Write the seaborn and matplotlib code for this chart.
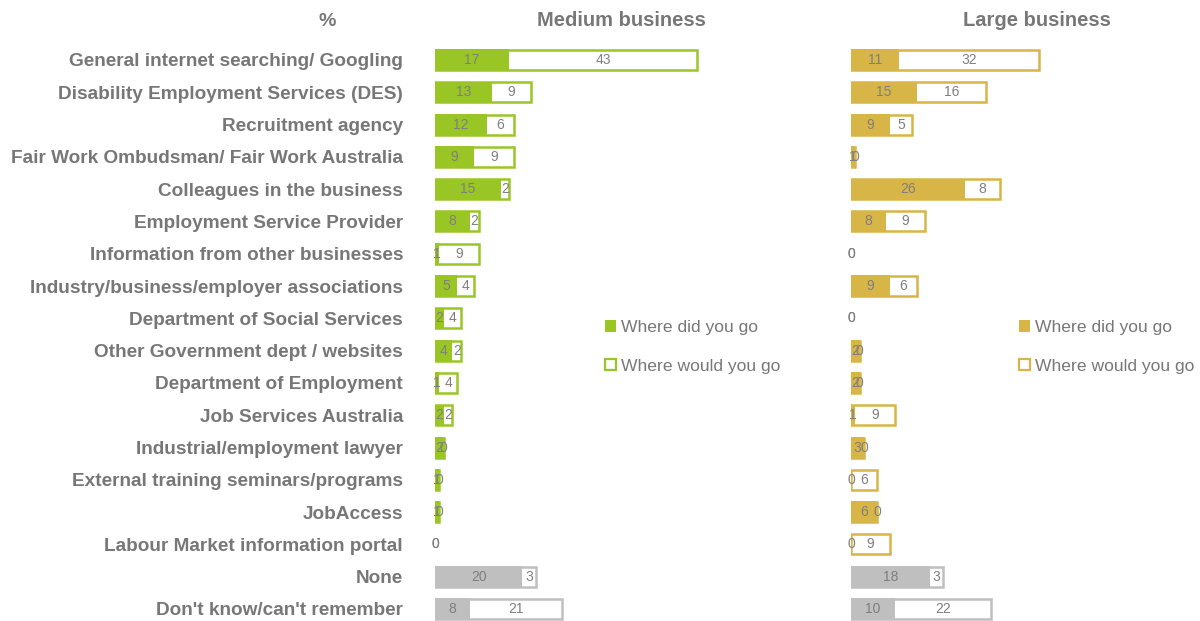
import matplotlib
matplotlib.use("Agg")
import matplotlib.pyplot as plt
from matplotlib.patches import Patch
import seaborn as sns
import pandas as pd

# Sources of information, % of businesses
categories = [
    "General internet searching/ Googling",
    "Disability Employment Services (DES)",
    "Recruitment agency",
    "Fair Work Ombudsman/ Fair Work Australia",
    "Colleagues in the business",
    "Employment Service Provider",
    "Information from other businesses",
    "Industry/business/employer associations",
    "Department of Social Services",
    "Other Government dept / websites",
    "Department of Employment",
    "Job Services Australia",
    "Industrial/employment lawyer",
    "External training seminars/programs",
    "JobAccess",
    "Labour Market information portal",
    "None",
    "Don't know/can't remember",
]
medium_did = [17, 13, 12, 9, 15, 8, 1, 5, 2, 4, 1, 2, 2, 1, 1, 0, 20, 8]
medium_would = [43, 9, 6, 9, 2, 2, 9, 4, 4, 2, 4, 2, 0, 0, 0, 0, 3, 21]
large_did = [11, 15, 9, 1, 26, 8, 0, 9, 0, 2, 2, 1, 3, 0, 6, 0, 18, 10]
large_would = [32, 16, 5, 0, 8, 9, 0, 6, 0, 0, 0, 9, 0, 6, 0, 9, 3, 22]
panel_titles = ["Medium business", "Large business"]
legend_labels = ["Where did you go", "Where would you go"]

GREEN = "#99C624"
GOLD = "#D8B547"
GREY = "#BFBFBF"
TEXT = "#777777"
VALUE = "#7F7F7F"

sns.set_theme(style="white")
plt.rcParams["font.family"] = ["Liberation Sans", "DejaVu Sans"]

fig = plt.figure(figsize=(12, 6.21), dpi=100)

H = 621.0
row_gap = (609 - 60) / 17.0
ax_top = 60 - row_gap / 2
ax_bot = 609 + row_gap / 2
px_per_unit = 4.37


def draw_panel(x0_px, did, would, color, xmax, show_labels):
    width_px = xmax * px_per_unit
    ax = fig.add_axes([x0_px / 1200.0, 1 - ax_bot / H, width_px / 1200.0,
                       (ax_bot - ax_top) / H])
    df = pd.DataFrame({
        "category": categories,
        "did": did,
        "total": [d + w for d, w in zip(did, would)],
    })
    palette = {c: (GREY if c in ("None", "Don't know/can't remember") else color)
               for c in categories}
    # outlined "would" part (spans the full total; the filled part covers the left)
    sns.barplot(data=df, y="category", x="total", hue="category", palette=palette,
                legend=False, fill=False, linewidth=1.8, width=0.62, ax=ax,
                saturation=1, order=categories, hue_order=categories)
    for p in list(ax.patches):
        if p.get_width() == 0:
            p.set_linewidth(0)
    sns.barplot(data=df, y="category", x="did", hue="category", palette=palette,
                legend=False, linewidth=0, width=0.66, ax=ax, saturation=1,
                order=categories, hue_order=categories)

    for i, (d, w) in enumerate(zip(did, would)):
        ax.text(d / 2, i, str(d), ha="center", va="center", fontsize=10, color=VALUE)
        ax.text(d + w / 2, i, str(w), ha="center", va="center", fontsize=10, color=VALUE)

    ax.set_xlim(0, xmax)
    ax.set_ylim(len(categories) - 0.5, -0.5)
    ax.set_xlabel("")
    ax.set_ylabel("")
    ax.set_xticks([])
    sns.despine(ax=ax, left=True, bottom=True)
    if show_labels:
        ax.tick_params(axis="y", length=0, pad=23)
        for lbl in ax.get_yticklabels():
            lbl.set_fontsize(13.7)
            lbl.set_fontweight("bold")
            lbl.set_color(TEXT)
    else:
        ax.set_yticklabels([])
        ax.tick_params(axis="y", length=0)
    return ax


ax_m = draw_panel(435, medium_did, medium_would, GREEN, 90, True)
ax_l = draw_panel(851, large_did, large_would, GOLD, 80, False)

fig.text(327 / 1200, 1 - 21 / H, "%", ha="center", va="center",
         fontsize=14, fontweight="bold", color=TEXT)
fig.text(621 / 1200, 1 - 21 / H, panel_titles[0], ha="center", va="center",
         fontsize=14.5, fontweight="bold", color=TEXT)
fig.text(1037 / 1200, 1 - 21 / H, panel_titles[1], ha="center", va="center",
         fontsize=14.5, fontweight="bold", color=TEXT)

for color, x_px in ((GREEN, 605), (GOLD, 1019)):
    handles = [
        Patch(facecolor=color, edgecolor=color, linewidth=0),
        Patch(facecolor="white", edgecolor=color, linewidth=1.6),
    ]
    fig.legend(handles=handles, labels=legend_labels, loc="upper left",
               bbox_to_anchor=(x_px / 1200, 1 - 320 / H), frameon=False,
               fontsize=12.6, labelcolor=TEXT, handlelength=0.62,
               handleheight=0.62, handletextpad=0.3, labelspacing=1.35,
               borderaxespad=0, borderpad=0)

fig.savefig("out.png", dpi=100, facecolor="white")
